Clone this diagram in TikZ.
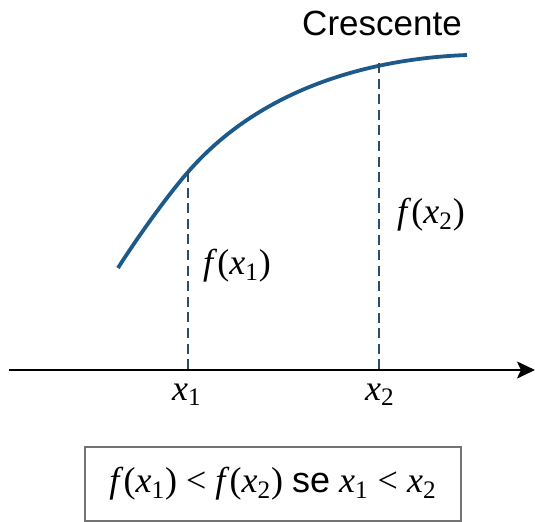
\documentclass[tikz,border=0pt]{standalone}
\usepackage{fontspec}
\setmainfont{Liberation Serif}
\setsansfont{Liberation Sans}
\usepackage{xcolor}
\usetikzlibrary{arrows.meta,positioning}
\definecolor{curveblue}{HTML}{1D5A8A}
\definecolor{dashblue}{HTML}{2E4B68}
\newcommand{\fx}[1]{\textit{f}(\textit{x}\textsubscript{#1})}
\newcommand{\vx}[1]{\textit{x}\textsubscript{#1}}

\begin{document}
\begin{tikzpicture}[x=0.5pt,y=-0.5pt,font=\fontsize{18}{20}\selectfont,
 curve/.style={curveblue,line width=1.9pt},
 guide/.style={dashblue,line width=0.75pt,dash pattern=on 5pt off 2.8pt},
 axis/.style={-{Stealth[length=9pt,width=8.5pt,inset=2pt]},line width=1pt},
 resbox/.style={draw=gray!90!black,line width=1pt,minimum width=188pt,minimum height=37pt}]
\useasboundingbox (0,0) rectangle (535,521);
\coordinate (p0) at (118,268);
\coordinate (p1) at (188,172);
\coordinate (p2) at (379,63);
\coordinate (p3) at (467,55);
\coordinate (a1) at (188,370);
\coordinate (a2) at (379,370);
\coordinate (left) at (9,370);
\coordinate (right) at (535,370);
\draw[curve] (p0) .. controls (133,244) and (166,197) .. (p1)
 .. controls (268,80) and (387,58) .. (p3);
\draw[guide] (p1)--(a1);
\draw[guide] (p2)--(a2);
\draw[axis] (left)--(right);
\node (x1) at (187,395) {\vx{1}};
\node (x2) at (380,395) {\vx{2}};
\node (fx1) at (237,266) {\fx{1}};
\node (fx2) at (431,215) {\fx{2}};
\node[font=\sffamily\fontsize{17.5}{20}\selectfont] (title) at (382,23) {Crescente};
\node[resbox] (rule) at (273,484) {\fx{1} < \fx{2} \textsf{se} \vx{1} < \vx{2}};
\end{tikzpicture}
\end{document}
